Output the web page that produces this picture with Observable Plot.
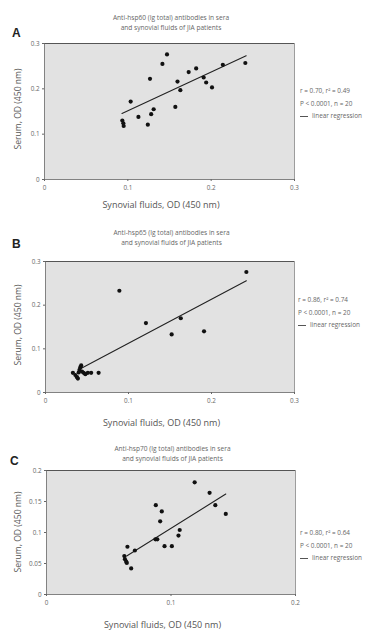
<!DOCTYPE html>
<html>
<head>
<meta charset="utf-8">
<script src="https://cdn.jsdelivr.net/npm/d3@7"></script>
<script src="https://cdn.jsdelivr.net/npm/@observablehq/plot@0.6"></script>
<style>
  html, body { margin: 0; padding: 0; background: #fff; }
  #wrap { position: relative; width: 384px; height: 642px; overflow: hidden; font-family: "Open Sans", sans-serif; color: #555; }
  .abs { position: absolute; white-space: nowrap; }
  .title { font-size: 6.6px; text-align: center; width: 200px; line-height: 10px; color: #666; }
  .letter { font-size: 12px; font-weight: 600; color: #222; font-family: "Liberation Sans", Arial, sans-serif; }
  .xlab { font-size: 9px; width: 200px; text-align: center; color: #555; }
  .ylab { font-size: 8.6px; width: 140px; text-align: center; color: #555; transform: rotate(-90deg); transform-origin: center center; }
  .leg { font-size: 6.4px; line-height: 12.5px; color: #666; }
  .leg span.ln { display: inline-block; width: 8px; border-top: 1px solid #555; vertical-align: middle; margin-right: 4px; }
  svg { position: absolute; left: 0; }
</style>
</head>
<body>
<div id="wrap"></div>
<script>
// ---------- Panel A: anti-hsp60 ----------
const aSyn = [0.147, 0.1415, 0.1266, 0.1034, 0.0934, 0.0946, 0.0950, 0.1127, 0.124, 0.128, 0.131, 0.157, 0.1596, 0.163, 0.173, 0.182, 0.191, 0.194, 0.201, 0.214, 0.241];
const aSer = [0.276, 0.255, 0.222, 0.172, 0.130, 0.124, 0.118, 0.138, 0.121, 0.144, 0.155, 0.160, 0.216, 0.197, 0.237, 0.245, 0.225, 0.214, 0.203, 0.253, 0.257];
const aRegX = [0.093, 0.242];
const aRegY = [0.1455, 0.273];
const aTicks = [0, 0.1, 0.2, 0.3];

// ---------- Panel B: anti-hsp65 ----------
const bSyn = [0.242, 0.089, 0.121, 0.163, 0.152, 0.191, 0.033, 0.036, 0.038, 0.039, 0.040, 0.041, 0.042, 0.043, 0.044, 0.046, 0.048, 0.051, 0.055, 0.064];
const bSer = [0.276, 0.233, 0.159, 0.170, 0.133, 0.140, 0.045, 0.040, 0.035, 0.032, 0.046, 0.052, 0.058, 0.062, 0.048, 0.045, 0.042, 0.045, 0.045, 0.045];
const bRegX = [0.041, 0.242];
const bRegY = [0.053, 0.256];
const bTicks = [0, 0.1, 0.2, 0.3];

// ---------- Panel C: anti-hsp70 ----------
const cSyn = [0.119, 0.131, 0.1356, 0.144, 0.0878, 0.0926, 0.0913, 0.0875, 0.089, 0.0948, 0.1007, 0.106, 0.107, 0.065, 0.071, 0.0625, 0.063, 0.064, 0.0645, 0.068];
const cSer = [0.181, 0.164, 0.144, 0.130, 0.144, 0.134, 0.118, 0.089, 0.089, 0.078, 0.078, 0.095, 0.104, 0.077, 0.071, 0.062, 0.057, 0.053, 0.051, 0.042];
const cRegX = [0.0644, 0.144];
const cRegY = [0.062, 0.162];
const cXTicks = [0, 0.1, 0.2];
const cYTicks = [0, 0.05, 0.1, 0.15, 0.2];

// ---------- Texts ----------
const letters = ["A", "B", "C"];
const titles = [
  ["Anti-hsp60 (Ig total) antibodies in sera", "and synovial fluids of JIA patients"],
  ["Anti-hsp65 (Ig total) antibodies in sera", "and synovial fluids of JIA patients"],
  ["Anti-hsp70 (Ig total) antibodies in sera", "and synovial fluids of JIA patients"]
];
const stats = [
  ["r = 0.70, r\u00B2 = 0.49", "P \u003C 0.0001, n = 20"],
  ["r = 0.86, r\u00B2 = 0.74", "P \u003C 0.0001, n = 20"],
  ["r = 0.80, r\u00B2 = 0.64", "P \u003C 0.0001, n = 20"]
];
const xTitle = "Synovial fluids, OD (450 nm)";
const yTitle = "Serum, OD (450 nm)";
const regLabel = "linear regression";

const fmt = d => d === 0 ? "0" : String(d);

const panels = [
  {syn: aSyn, ser: aSer, rx: aRegX, ry: aRegY, xt: aTicks, yt: aTicks, xd: [0, 0.3], yd: [0, 0.3],
   top: 0, height: 199, mt: 43, mb: 20, ml: 44, mr: 90},
  {syn: bSyn, ser: bSer, rx: bRegX, ry: bRegY, xt: bTicks, yt: bTicks, xd: [0, 0.3], yd: [0, 0.3],
   top: 220, height: 192, mt: 41, mb: 20, ml: 45, mr: 90},
  {syn: cSyn, ser: cSer, rx: cRegX, ry: cRegY, xt: cXTicks, yt: cYTicks, xd: [0, 0.2], yd: [0, 0.2],
   top: 430, height: 184, mt: 40, mb: 20, ml: 46, mr: 89}
];

// layout of the HTML text pieces (px in page)
const layout = [
  {titleY: 13, letterY: 26, letterX: 12, xlabY: 198, ylabCY: 109, legY: 85, legX: 300},
  {titleY: 228, letterY: 237, letterX: 12, xlabY: 416, ylabCY: 325, legY: 294, legX: 298},
  {titleY: 444, letterY: 454, letterX: 10, xlabY: 618, ylabCY: 532, legY: 527, legX: 300}
];

const wrap = document.getElementById("wrap");

panels.forEach((p, i) => {
  const pts = p.syn.map((x, k) => ({x, y: p.ser[k]}));
  const reg = p.rx.map((x, k) => ({x, y: p.ry[k]}));
  const chart = Plot.plot({
    width: 384,
    height: p.height,
    marginTop: p.mt,
    marginBottom: p.mb,
    marginLeft: p.ml,
    marginRight: p.mr,
    style: {fontFamily: "Open Sans, sans-serif", fontSize: "6.3px", color: "#666", background: "transparent"},
    x: {domain: p.xd},
    y: {domain: p.yd},
    marks: [
      Plot.frame({fill: "#e2e2e2", stroke: "none"}),
      Plot.ruleY([p.yd[1]], {stroke: "#555", strokeWidth: 1}),
      Plot.ruleX([p.xd[1]], {stroke: "#888", strokeWidth: 0.8}),
      Plot.ruleY([p.yd[0]], {stroke: "#666", strokeWidth: 0.8}),
      Plot.ruleX([p.xd[0]], {stroke: "#666", strokeWidth: 0.8}),
      Plot.axisX({ticks: p.xt, tickFormat: fmt, tickSize: 2, tickPadding: 4, label: null, stroke: "#666"}),
      Plot.axisY({ticks: p.yt, tickFormat: fmt, tickSize: 2, tickPadding: 3, label: null, stroke: "#666"}),
      Plot.line(reg, {x: "x", y: "y", stroke: "#222", strokeWidth: 1.1}),
      Plot.dot(pts, {x: "x", y: "y", r: 2.1, fill: "#111", stroke: "none"})
    ]
  });
  chart.style.top = p.top + "px";
  wrap.appendChild(chart);

  const L = layout[i];
  const frameCenterX = p.ml + (384 - p.ml - p.mr) / 2;

  const t = document.createElement("div");
  t.className = "abs title";
  t.style.left = (frameCenterX - 100 + 2) + "px";
  t.style.top = L.titleY + "px";
  t.innerHTML = titles[i].join("<br>");
  wrap.appendChild(t);

  const le = document.createElement("div");
  le.className = "abs letter";
  le.style.left = L.letterX + "px";
  le.style.top = L.letterY + "px";
  le.textContent = letters[i];
  wrap.appendChild(le);

  const xl = document.createElement("div");
  xl.className = "abs xlab";
  xl.style.left = (frameCenterX - 100 - 8) + "px";
  xl.style.top = L.xlabY + "px";
  xl.textContent = xTitle;
  wrap.appendChild(xl);

  const yl = document.createElement("div");
  yl.className = "abs ylab";
  yl.style.left = (18 - 70) + "px";
  yl.style.top = (L.ylabCY - 6) + "px";
  yl.textContent = yTitle;
  wrap.appendChild(yl);

  const lg = document.createElement("div");
  lg.className = "abs leg";
  [stats[i][0], stats[i][1]].forEach(s => {
    const d = document.createElement("div");
    d.textContent = s;
    lg.appendChild(d);
  });
  const d3row = document.createElement("div");
  const ln = document.createElement("span");
  ln.className = "ln";
  d3row.appendChild(ln);
  d3row.appendChild(document.createTextNode(regLabel));
  lg.appendChild(d3row);
  lg.style.left = L.legX + "px";
  lg.style.top = L.legY + "px";
  wrap.appendChild(lg);
});
</script>
</body>
</html>
